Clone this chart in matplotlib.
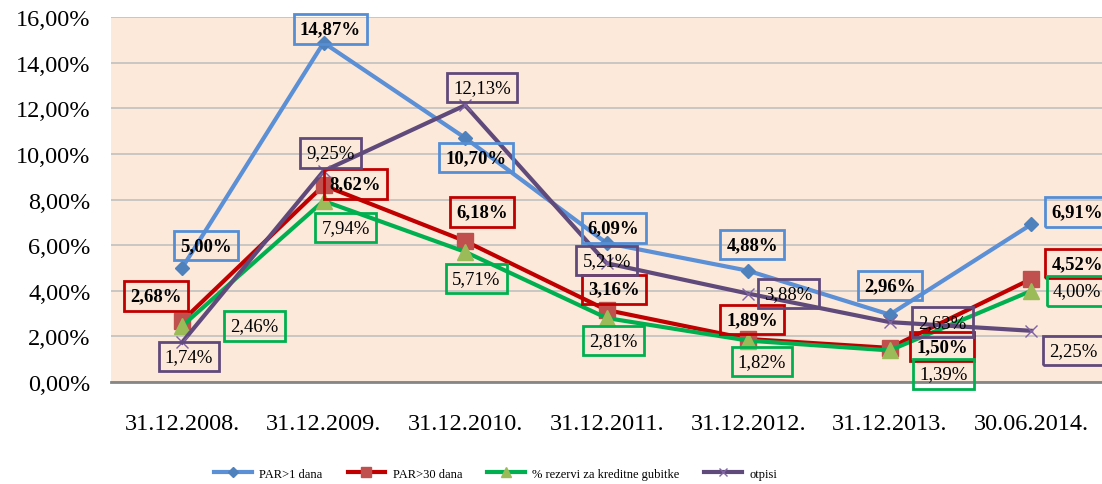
import matplotlib.pyplot as plt
from matplotlib.ticker import FuncFormatter

# data
categories = ['31.12.2008.', '31.12.2009.', '31.12.2010.', '31.12.2011.',
              '31.12.2012.', '31.12.2013.', '30.06.2014.']
par1 = [5.00, 14.87, 10.70, 6.09, 4.88, 2.96, 6.91]
par30 = [2.68, 8.62, 6.18, 3.16, 1.89, 1.50, 4.52]
rezerve = [2.46, 7.94, 5.71, 2.81, 1.82, 1.39, 4.00]
otpisi = [1.74, 9.25, 12.13, 5.21, 3.88, 2.63, 2.25]
names = ['PAR>1 dana', 'PAR>30 dana', '% rezervi za kreditne gubitke', 'otpisi']

# label offsets in points (dx, dy)
off_par1 = [(17, 16), (5, 10), (8, -14), (5, 11), (3, 19), (0, 21), (33, 9)]
off_par30 = [(-19, 18), (23, 1), (12, 21), (5, 15), (3, 14), (38, 1), (33, 11)]
off_rez = [(52, 0), (16, -19), (8, -19), (5, -16), (10, -15), (39, -17), (33, 0)]
off_otp = [(5, -10), (5, 13), (12, 13), (0, 2), (29, 0), (38, 0), (30, -14)]

plt.rcParams['font.family'] = ['Liberation Serif', 'DejaVu Serif']

fig = plt.figure(figsize=(11.02, 4.85), dpi=100)
ax = fig.add_axes([0.101, 0.21, 0.899, 0.753])
ax.set_facecolor('#FDE9D9')

x = list(range(len(categories)))
series = [
    (par1, off_par1, '#5B8FD6', '#4F81BD', 'D', 7, '#558ED5', 'bold'),
    (par30, off_par30, '#C00000', '#C0504D', 's', 11, '#C00000', 'bold'),
    (rezerve, off_rez, '#00B050', '#9BBB59', '^', 11, '#00B050', 'normal'),
    (otpisi, off_otp, '#604A7B', '#8064A2', 'x', 8, '#604A7B', 'normal'),
]
for (vals, offs, lc, mc, mk, ms, bc, fw), nm in zip(series, names):
    ax.plot(x, vals, color=lc, lw=3, marker=mk, ms=ms, mfc=mc, mec=mc,
            label=nm, zorder=3)
    for xi, v, (dx, dy) in zip(x, vals, offs):
        ax.annotate(('%.2f' % v).replace('.', ',') + '%', (xi, v),
                    xytext=(dx, dy), textcoords='offset points',
                    ha='center', va='center', fontsize=13.5, fontweight=fw,
                    bbox=dict(boxstyle='square,pad=0.33', fc='none', ec=bc, lw=2),
                    zorder=4)

ax.set_xlim(-0.5, 6.5)
ax.set_ylim(0, 16)
ax.set_yticks(range(0, 17, 2))
ax.yaxis.set_major_formatter(FuncFormatter(lambda v, p: ('%.2f' % v).replace('.', ',') + '%'))
ax.set_xticks(x)
ax.set_xticklabels(categories)
ax.tick_params(axis='both', length=0, labelsize=17.5)
ax.tick_params(axis='x', pad=22)
ax.tick_params(axis='y', pad=15)
ax.grid(axis='y', color='#BFBFBF', lw=1.2)
ax.set_axisbelow(True)
for s in ['top', 'right', 'left']:
    ax.spines[s].set_visible(False)
ax.spines['bottom'].set_color('#868686')
ax.spines['bottom'].set_linewidth(2)

fig.legend(loc='lower center', bbox_to_anchor=(0.45, -0.014), ncol=4, frameon=False,
           fontsize=9, handlelength=3, columnspacing=2, handletextpad=0.6,
           markerscale=0.7)

fig.savefig('out.png', dpi=100)
